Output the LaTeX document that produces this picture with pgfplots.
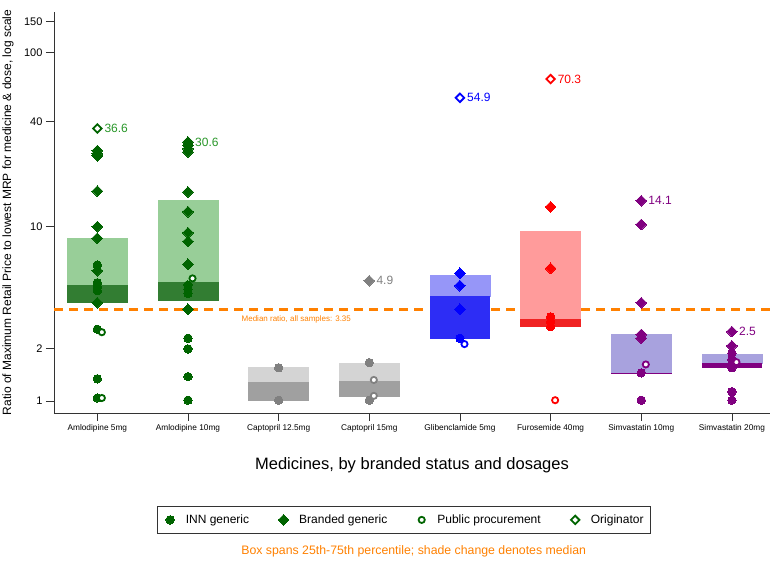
\documentclass[border=0pt]{standalone}
\usepackage{fontspec}
\setmainfont{Liberation Sans}
\usepackage{pgfplots}
\pgfplotsset{compat=1.18}
\usetikzlibrary{decorations.markings}
\definecolor{gmark}{RGB}{0,100,0}
\definecolor{glab}{RGB}{40,150,40}
\definecolor{glight}{RGB}{152,206,152}
\definecolor{gdark}{RGB}{50,125,50}
\definecolor{grmark}{RGB}{128,128,128}
\definecolor{grlight}{RGB}{212,212,212}
\definecolor{grdark}{RGB}{160,160,160}
\definecolor{bmark}{RGB}{0,0,255}
\definecolor{blight}{RGB}{150,150,248}
\definecolor{bdark}{RGB}{45,45,245}
\definecolor{rmark}{RGB}{255,0,0}
\definecolor{rlight}{RGB}{255,155,155}
\definecolor{rdark}{RGB}{240,35,35}
\definecolor{pmark}{RGB}{128,0,128}
\definecolor{plight}{RGB}{168,162,222}
\definecolor{medorange}{RGB}{255,128,0}
\pgfplotsset{
  inn/.style={only marks, mark=*, mark size=4.2pt, color=#1, mark options={draw=#1, fill=#1, line width=0pt}},
  brand/.style={only marks, mark=square*, mark size=3.8pt, color=#1, mark options={rotate=45, fill=#1, draw=#1, line width=0pt}},
  pub/.style={only marks, mark=*, mark size=3.1pt, color=#1, mark options={fill=white, draw=#1, line width=1.8pt}},
  orig/.style={only marks, mark=square*, mark size=3.0pt, color=#1, mark options={rotate=45, fill=white, draw=#1, line width=1.8pt}},
  medline/.style={draw=none, forget plot, postaction={decorate},
    decoration={markings, mark=between positions 0 and 1 step 15pt with {\fill[fill=medorange] (0pt,-1.1pt) rectangle (9pt,1.1pt);}}},
}
\newcommand{\qbox}[7]{%
  \addplot[fill=#6, draw=#6, line width=0.5pt, forget plot] coordinates {(#1,#4) (#2,#4) (#2,#5) (#1,#5)} -- cycle;
  \addplot[fill=#7, draw=#7, line width=0.8pt, forget plot] coordinates {(#1,#3) (#2,#3) (#2,#4) (#1,#4)} -- cycle;
}
\newcommand{\lab}{\fontsize{12}{14}\selectfont}
\begin{document}
\begin{tikzpicture}
\path[use as bounding box] (0,0) rectangle (777pt,562pt);
\begin{axis}[
  at={(54pt,149pt)}, anchor=south west,
  scale only axis, width=716pt, height=401pt,
  ymode=log, ymin=0.853, ymax=170.6,
  xmin=-0.478, xmax=7.42,
  clip=false,
  axis x line*=bottom, axis y line*=left,
  axis line style={-, line width=0.8pt, black!80},
  tick align=outside, major tick length=8pt,
  tick style={line width=0.8pt, black!80},
  yminorticks=false,
  ytick={1,2,10,40,100,150}, yticklabels={1,2,10,40,100,150},
  yticklabel style={font=\fontsize{11}{13}\selectfont},
  xtick={0,1,2,3,4,5,6,7},
  xticklabels={Amlodipine 5mg, Amlodipine 10mg, Captopril 12.5mg, Captopril 15mg, Glibenclamide 5mg, Furosemide 40mg, Simvastatin 10mg, Simvastatin 20mg},
  xticklabel style={font=\fontsize{8.3}{10}\selectfont},
  xlabel={Medicines, by branded status and dosages},
  xlabel style={at={(axis description cs:0.5,0)}, yshift=-52pt, anchor=center, font=\fontsize{16.5}{19}\selectfont},
  ylabel={Ratio of Maximum Retail Price to lowest MRP for medicine \& dose, log scale},
  ylabel style={at={(axis description cs:-0.0642,0.5)}, anchor=center, font=\fontsize{12}{14}\selectfont},
  legend columns=4,
  legend image code/.code={\path (-0.25cm,0cm) (0.47cm,0cm); \draw[#1] plot coordinates {(0cm,0cm)};},
  legend style={at={(axis description cs:0.489,0)}, anchor=north, yshift=-93pt,
    draw=black!80, line width=0.6pt, font=\fontsize{12}{14}\selectfont,
    /tikz/every even column/.append style={column sep=25pt}, inner ysep=6.5pt, inner xsep=5pt},
]
\addlegendimage{inn=gmark}\addlegendentry{INN generic}
\addlegendimage{brand=gmark}\addlegendentry{Branded generic}
\addlegendimage{pub=gmark}\addlegendentry{Public procurement}
\addlegendimage{orig=gmark}\addlegendentry{Originator}

% overall median ratio 3.35 (dashed; hidden behind the boxes it crosses)
\addplot[medline] coordinates {(-0.478,3.35) (3.57,3.35)};
\addplot[medline] coordinates {(4.34,3.35) (4.58,3.35)};
\addplot[medline] coordinates {(5.34,3.35) (7.42,3.35)};

% boxes: left, right, q1, median, q3
\qbox{-0.33}{0.33}{3.68}{4.59}{8.58}{glight}{gdark}
\qbox{0.67}{1.33}{3.76}{4.82}{14.1}{glight}{gdark}
\qbox{1.67}{2.33}{1.01}{1.27}{1.56}{grlight}{grdark}
\qbox{2.67}{3.33}{1.06}{1.30}{1.65}{grlight}{grdark}
\qbox{3.67}{4.33}{2.29}{3.97}{5.28}{blight}{bdark}
\qbox{4.67}{5.33}{2.67}{2.94}{9.36}{rlight}{rdark}
\qbox{5.67}{6.33}{1.44}{1.445}{2.41}{plight}{pmark}
\qbox{6.67}{7.33}{1.55}{1.64}{1.86}{plight}{pmark}

% Amlodipine (green)
\addplot[inn=gmark, forget plot] coordinates {(0,6.03) (0,4.77) (0,4.52) (0,4.29) (0,2.58) (0,1.34) (0,1.04)
  (1,4.63) (1,4.37) (1,4.14) (1,2.29) (1,1.99) (1,1.38) (1,1.01)};
\addplot[brand=gmark, forget plot] coordinates {(0,27.3) (0,26.3) (0,25.5) (0,16.0) (0,10.0) (0,8.58) (0,5.59) (0,3.66)
  (1,30.6) (1,29.3) (1,28.0) (1,26.8) (1,15.8) (1,12.2) (1,9.23) (1,8.22) (1,6.08) (1,3.36)};
\addplot[pub=gmark, forget plot] coordinates {(0.05,2.48) (0.05,1.04) (1.05,5.05)};
\addplot[orig=gmark, forget plot] coordinates {(0,36.6)};

% Captopril (grey)
\addplot[inn=grmark, forget plot] coordinates {(2,1.55) (2,1.01) (3,1.66) (3,1.01)};
\addplot[brand=grmark, forget plot] coordinates {(3,4.9)};
\addplot[pub=grmark, forget plot] coordinates {(3.05,1.32) (3.05,1.07)};

% Glibenclamide (blue)
\addplot[inn=bmark, forget plot] coordinates {(4,2.29)};
\addplot[brand=bmark, forget plot] coordinates {(4,5.40) (4,4.59) (4,3.36)};
\addplot[pub=bmark, forget plot] coordinates {(4.05,2.12)};
\addplot[orig=bmark, forget plot] coordinates {(4,54.9)};

% Furosemide (red)
\addplot[inn=rmark, forget plot] coordinates {(5,3.04) (5,2.85) (5,2.67)};
\addplot[brand=rmark, forget plot] coordinates {(5,12.98) (5,5.77)};
\addplot[pub=rmark, forget plot] coordinates {(5.05,1.01)};
\addplot[orig=rmark, forget plot] coordinates {(5,70.3)};

% Simvastatin (purple)
\addplot[inn=pmark, forget plot] coordinates {(6,1.45) (6,1.01) (7,1.88) (7,1.73) (7,1.61) (7,1.55) (7,1.13) (7,1.01)};
\addplot[brand=pmark, forget plot] coordinates {(6,14.1) (6,10.3) (6,3.66) (6,2.41) (6,2.29) (7,2.5) (7,2.07)};
\addplot[pub=pmark, forget plot] coordinates {(6.05,1.62) (7.05,1.67)};

% value labels
\node[anchor=west, inner sep=0pt, xshift=7pt, text=glab, font=\lab] at (axis cs:0,36.6) {36.6};
\node[anchor=west, inner sep=0pt, xshift=7pt, text=glab, font=\lab] at (axis cs:1,30.6) {30.6};
\node[anchor=west, inner sep=0pt, xshift=7pt, text=grmark, font=\lab] at (axis cs:3,4.9) {4.9};
\node[anchor=west, inner sep=0pt, xshift=7pt, text=bmark, font=\lab] at (axis cs:4,54.9) {54.9};
\node[anchor=west, inner sep=0pt, xshift=7pt, text=rmark, font=\lab] at (axis cs:5,70.3) {70.3};
\node[anchor=west, inner sep=0pt, xshift=7pt, text=pmark, font=\lab] at (axis cs:6,14.1) {14.1};
\node[anchor=west, inner sep=0pt, xshift=7pt, text=pmark, font=\lab] at (axis cs:7,2.5) {2.5};

\node[anchor=west, inner sep=0pt, yshift=-10pt, text=medorange, font=\fontsize{8}{9}\selectfont] at (axis cs:1.59,3.35) {Median ratio, all samples: 3.35};

\node[text=medorange, font=\fontsize{12.3}{14}\selectfont, anchor=center] at (axis description cs:0.5024,0) [yshift=-138.7pt] {Box spans 25th-75th percentile; shade change denotes median};
\end{axis}
\end{tikzpicture}
\end{document}
